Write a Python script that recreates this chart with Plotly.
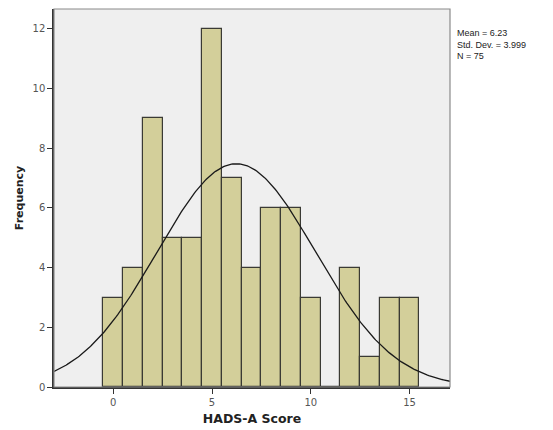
import numpy as np
import plotly.graph_objects as go

scores = list(range(0, 16))
freq = [3, 4, 9, 5, 5, 12, 7, 4, 6, 6, 3, 0, 4, 1, 3, 3]
mean_val = 6.23
sd_val = 3.999
n_val = 75
y_ticks = [0, 2, 4, 6, 8, 10, 12]
x_ticks = [0, 5, 10, 15]

xc = np.linspace(-3, 17.05, 300)
yc = n_val * 1.0 / (sd_val * np.sqrt(2 * np.pi)) * np.exp(-0.5 * ((xc - mean_val) / sd_val) ** 2)

fig = go.Figure()
fig.add_trace(go.Bar(x=scores, y=freq, width=1,
                     marker=dict(color="#D3CF9A", line=dict(color="#3a3a34", width=1.2)),
                     showlegend=False))
fig.add_trace(go.Scatter(x=xc, y=yc, mode="lines", line=dict(color="#1a1a1a", width=1.3),
                         showlegend=False))

fig.add_shape(type="rect", xref="paper", yref="paper", x0=0, y0=0, x1=1, y1=1,
              line=dict(color="#8a8a8a", width=1.2), layer="above")

# page body has an 8px default margin, so the figure is sized to fit inside the window
fig.update_layout(
    width=545, height=422,
    margin=dict(l=46, r=103, t=1, b=43),
    paper_bgcolor="white", plot_bgcolor="#EFEFEF",
    font=dict(family="DejaVu Sans", color="#444444", size=10),
    bargap=0,
    xaxis=dict(range=[-3, 17.05], tickvals=x_ticks, ticks="outside", ticklen=5,
               tickcolor="#333333", showgrid=False, zeroline=False, automargin=False,
               showline=True, linecolor="#333333", linewidth=1.5,
               tickfont=dict(size=10, color="#555555"),
               title=dict(text="<b>HADS-A Score</b>", font=dict(size=12.5, color="#222222"), standoff=7)),
    yaxis=dict(range=[0, 12.67], tickvals=y_ticks, ticks="outside", ticklen=5,
               tickcolor="#333333", showgrid=False, zeroline=False, automargin=False,
               showline=True, linecolor="#333333", linewidth=1.5,
               tickfont=dict(size=10, color="#555555"),
               title=dict(text="<b>Frequency</b>", font=dict(size=11, color="#222222"), standoff=7)),
    annotations=[dict(xref="paper", yref="paper", x=1.012, y=0.955, xanchor="left", yanchor="top",
                      showarrow=False, align="left",
                      text=f"Mean = {mean_val}<br>Std. Dev. = {sd_val}<br>N = {n_val}",
                      font=dict(family="Liberation Sans", size=9, color="#222222"))],
)

fig.write_html("out.html")
